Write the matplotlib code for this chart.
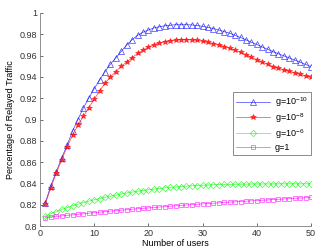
import matplotlib
matplotlib.use("Agg")
import matplotlib.pyplot as plt

# Number of users
users = list(range(1, 51))

# Percentage of relayed traffic
g_1e10 = [0.822, 0.838, 0.851, 0.864, 0.876, 0.889, 0.900, 0.911, 0.920, 0.929,
          0.937, 0.945, 0.952, 0.958, 0.964, 0.970, 0.975, 0.979, 0.982, 0.984,
          0.986, 0.987, 0.988, 0.9885, 0.989, 0.989, 0.989, 0.9888, 0.9883, 0.9875,
          0.9865, 0.9853, 0.984, 0.9825, 0.981, 0.979, 0.977, 0.9748, 0.9725, 0.9705,
          0.968, 0.966, 0.9637, 0.9617, 0.9597, 0.9578, 0.9558, 0.9538, 0.9517, 0.9496]
g_1e8 = [0.821, 0.836, 0.8495, 0.862, 0.8745, 0.885, 0.895, 0.903, 0.911, 0.919,
         0.927, 0.934, 0.940, 0.945, 0.950, 0.954, 0.958, 0.962, 0.965, 0.968,
         0.970, 0.972, 0.973, 0.974, 0.9745, 0.975, 0.975, 0.9748, 0.9743, 0.9735,
         0.9725, 0.9713, 0.970, 0.9685, 0.9668, 0.965, 0.963, 0.961, 0.9584, 0.9563,
         0.954, 0.9518, 0.9496, 0.9482, 0.9468, 0.9453, 0.9438, 0.9424, 0.941, 0.9396]
g_1e6 = [0.8095, 0.8115, 0.8135, 0.8155, 0.8172, 0.819, 0.8205, 0.822, 0.8233, 0.8246,
         0.8258, 0.827, 0.828, 0.829, 0.830, 0.831, 0.8318, 0.8326, 0.8333, 0.834,
         0.8346, 0.8352, 0.8357, 0.8362, 0.8366, 0.837, 0.8374, 0.8377, 0.838, 0.8383,
         0.8385, 0.8387, 0.8389, 0.839, 0.8391, 0.8392, 0.8393, 0.8394, 0.8394, 0.8395,
         0.8395, 0.8395, 0.8395, 0.8396, 0.8396, 0.8396, 0.8396, 0.8396, 0.8396, 0.8396]
g_1 = [0.8078, 0.8084, 0.8090, 0.8095, 0.8100, 0.8105, 0.8110, 0.8115, 0.8120, 0.8125,
       0.8130, 0.8135, 0.8140, 0.8144, 0.8149, 0.8153, 0.8158, 0.8162, 0.8166, 0.8170,
       0.8174, 0.8178, 0.8182, 0.8186, 0.8190, 0.8194, 0.8197, 0.8201, 0.8204, 0.8208,
       0.8211, 0.8214, 0.8218, 0.8221, 0.8224, 0.8227, 0.8230, 0.8233, 0.8236, 0.8239,
       0.8242, 0.8245, 0.8248, 0.8251, 0.8254, 0.8257, 0.8260, 0.8263, 0.8266, 0.8269]

labels = [r"g=10$^{-10}$", r"g=10$^{-8}$", r"g=10$^{-6}$", "g=1"]
x_ticks = [0, 10, 20, 30, 40, 50]
y_ticks = [0.8, 0.82, 0.84, 0.86, 0.88, 0.9, 0.92, 0.94, 0.96, 0.98, 1]

plt.rcParams['font.family'] = ['Liberation Sans', 'DejaVu Sans']
plt.rcParams['mathtext.fontset'] = 'custom'
plt.rcParams['mathtext.rm'] = 'Liberation Sans'

fig = plt.figure(figsize=(3.26, 2.5), dpi=100)
ax = fig.add_axes([0.1227, 0.096, 0.8313, 0.852])

series = [g_1e10, g_1e8, g_1e6, g_1]
colors = ["#0000ff", "#ff0000", "#00ff00", "#ff00ff"]
markers = ["^", "*", "D", "s"]
sizes = [4.5, 4.0, 3.2, 3.2]
for vals, c, m, ms, lab in zip(series, colors, markers, sizes, labels):
    ax.plot(users, vals, color=c, marker=m, markersize=ms, markerfacecolor='none' if m != "*" else c,
            markeredgewidth=0.5, linewidth=0.5, label=lab, alpha=0.75)

ax.set_xlim(0, 50)
ax.set_ylim(0.8, 1)
ax.set_xticks(x_ticks)
ax.set_yticks(y_ticks)
ax.set_yticklabels([f"{v:g}" for v in y_ticks])
ax.tick_params(direction='in', length=2.5, width=0.5, labelsize=6.5, colors='#333333', pad=2)
for side in ['top', 'right']:
    ax.spines[side].set_visible(False)
for side in ['left', 'bottom']:
    ax.spines[side].set_color('#7f7f7f')
    ax.spines[side].set_linewidth(0.6)

ax.set_xlabel("Number of users", fontsize=6.5, labelpad=1)
ax.set_ylabel("Percentage of Relayed Traffic", fontsize=6.5, labelpad=3)

leg = ax.legend(loc='upper right', bbox_to_anchor=(1.0, 0.63), fontsize=6.5, frameon=True, fancybox=False,
                handlelength=3.8, borderpad=0.35, labelspacing=0.25, handletextpad=0.5, borderaxespad=0)
leg.get_frame().set_edgecolor('#555555')
leg.get_frame().set_linewidth(0.6)

fig.savefig("out.png", dpi=100)
